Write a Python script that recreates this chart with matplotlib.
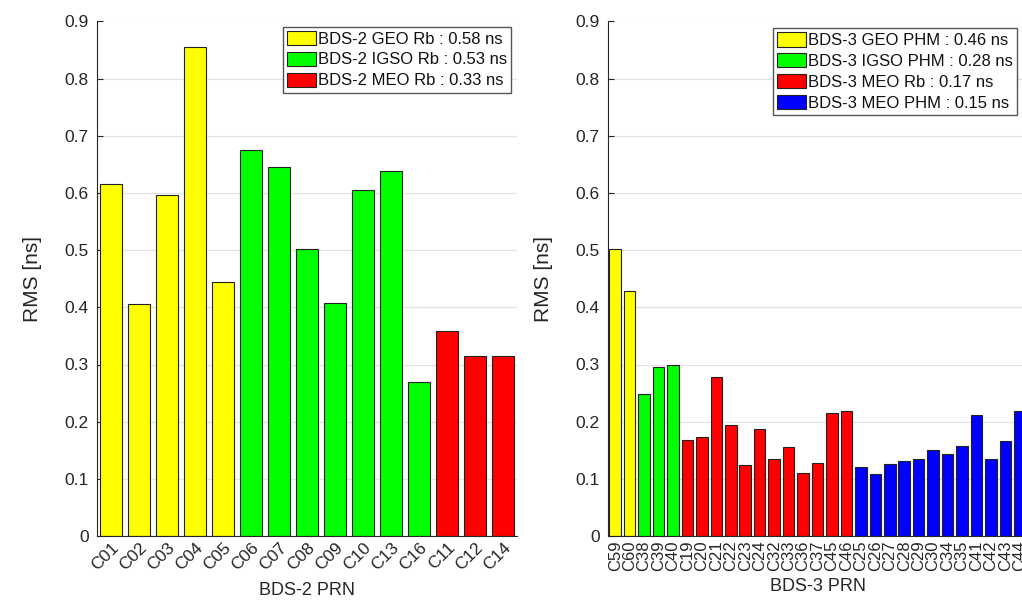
import matplotlib
matplotlib.use("Agg")
import matplotlib.pyplot as plt
from matplotlib.patches import Patch

# ---- data ----
bds2_prn = ["C01", "C02", "C03", "C04", "C05", "C06", "C07", "C08",
            "C09", "C10", "C13", "C16", "C11", "C12", "C14"]
bds2_rms = [0.616, 0.405, 0.597, 0.855, 0.444, 0.675, 0.646, 0.502,
            0.408, 0.606, 0.638, 0.269, 0.359, 0.314, 0.314]
bds2_group = ["GEO"] * 5 + ["IGSO"] * 7 + ["MEO"] * 3
bds2_labels = ["BDS-2 GEO Rb : 0.58 ns", "BDS-2 IGSO Rb : 0.53 ns",
               "BDS-2 MEO Rb : 0.33 ns"]

bds3_prn = ["C59", "C60", "C38", "C39", "C40",
            "C19", "C20", "C21", "C22", "C23", "C24", "C32", "C33",
            "C36", "C37", "C45", "C46",
            "C25", "C26", "C27", "C28", "C29", "C30", "C34", "C35",
            "C41", "C42", "C43", "C44"]
bds3_rms = [0.502, 0.429, 0.248, 0.295, 0.300,
            0.168, 0.173, 0.278, 0.195, 0.124, 0.187, 0.134, 0.155,
            0.110, 0.128, 0.215, 0.218,
            0.121, 0.109, 0.126, 0.132, 0.134, 0.151, 0.144, 0.157,
            0.212, 0.134, 0.166, 0.219]
bds3_group = (["GEO"] * 2 + ["IGSO"] * 3 + ["MEO Rb"] * 12
              + ["MEO PHM"] * 12)
bds3_labels = ["BDS-3 GEO PHM : 0.46 ns", "BDS-3 IGSO PHM : 0.28 ns",
               "BDS-3 MEO Rb : 0.17 ns", "BDS-3 MEO PHM : 0.15 ns"]

colors2 = {"GEO": "#ffff00", "IGSO": "#00ff00", "MEO": "#ff0000"}
colors3 = {"GEO": "#ffff00", "IGSO": "#00ff00", "MEO Rb": "#ff0000",
           "MEO PHM": "#0000ff"}

TXT = "#262626"
plt.rcParams["font.family"] = ["Liberation Sans", "DejaVu Sans"]

W, H = 1022, 601
fig = plt.figure(figsize=(W / 100, H / 100), dpi=100)


def px_axes(x0, x1, y0, y1):
    return fig.add_axes([x0 / W, 1 - y1 / H, (x1 - x0) / W, (y1 - y0) / H])


def style(ax, n):
    ax.set_xlim(0.5, n + 0.5)
    ax.set_ylim(0, 0.9)
    ax.set_yticks([i / 10 for i in range(10)])
    ax.set_yticklabels(["0"] + [f"{i / 10:.1f}" for i in range(1, 10)])
    ax.grid(axis="y", color="#e3e3e3", linewidth=0.9)
    ax.set_axisbelow(True)
    for s in ("top", "right"):
        ax.spines[s].set_visible(False)
    for s in ("left", "bottom"):
        ax.spines[s].set_color(TXT)
        ax.spines[s].set_linewidth(0.8)
    ax.tick_params(axis="y", direction="in", length=4, width=0.8,
                   colors=TXT, labelsize=12.5, pad=6)
    ax.tick_params(axis="x", length=0, colors=TXT, labelsize=12.5, pad=3)
    ax.set_ylabel("RMS [ns]", fontsize=15, color=TXT, labelpad=16)


def legend(ax, handles, anchor, loc):
    leg = ax.legend(handles=handles, loc=loc, bbox_to_anchor=anchor,
                    bbox_transform=fig.transFigure, borderaxespad=0,
                    fontsize=12, handlelength=1.75, handleheight=0.95,
                    handletextpad=0.1, labelspacing=0.3, borderpad=0.25,
                    fancybox=False, framealpha=1)
    leg.get_frame().set_edgecolor("#555555")
    leg.get_frame().set_linewidth(1.0)
    for t in leg.get_texts():
        t.set_color("#111111")


# ---- BDS-2 panel ----
ax1 = px_axes(97, 517, 21.5, 536)
x2 = list(range(1, len(bds2_prn) + 1))
ax1.bar(x2, bds2_rms, width=0.8, color=[colors2[g] for g in bds2_group],
        edgecolor="#222222", linewidth=0.8)
style(ax1, len(bds2_prn))
ax1.set_xticks(x2)
ax1.set_xticklabels(bds2_prn, rotation=45, ha="right", va="top",
                    rotation_mode="anchor")
ax1.set_xlabel("BDS-2 PRN", fontsize=13, color=TXT, labelpad=6)
h2 = [Patch(facecolor=colors2[k], edgecolor="#222222", linewidth=0.8)
      for k in colors2]
for h, lab in zip(h2, bds2_labels):
    h.set_label(lab)
legend(ax1, h2, (511 / W, 1 - 26.5 / H), "upper right")

# ---- BDS-3 panel (runs past the right edge, as in the source) ----
ax2 = px_axes(608, 1027, 21.5, 536)
x3 = list(range(1, len(bds3_prn) + 1))
ax2.bar(x3, bds3_rms, width=0.8, color=[colors3[g] for g in bds3_group],
        edgecolor="#222222", linewidth=0.8)
style(ax2, len(bds3_prn))
ax2.set_xticks(x3)
ax2.set_xticklabels(bds3_prn, rotation=90, ha="center", va="top",
                    fontsize=12)
ax2.set_xlabel("BDS-3 PRN", fontsize=13, color=TXT, labelpad=5)
h3 = [Patch(facecolor=colors3[k], edgecolor="#222222", linewidth=0.8)
      for k in colors3]
for h, lab in zip(h3, bds3_labels):
    h.set_label(lab)
legend(ax2, h3, (772.5 / W, 1 - 28 / H), "upper left")

fig.savefig("out.png", dpi=100)
